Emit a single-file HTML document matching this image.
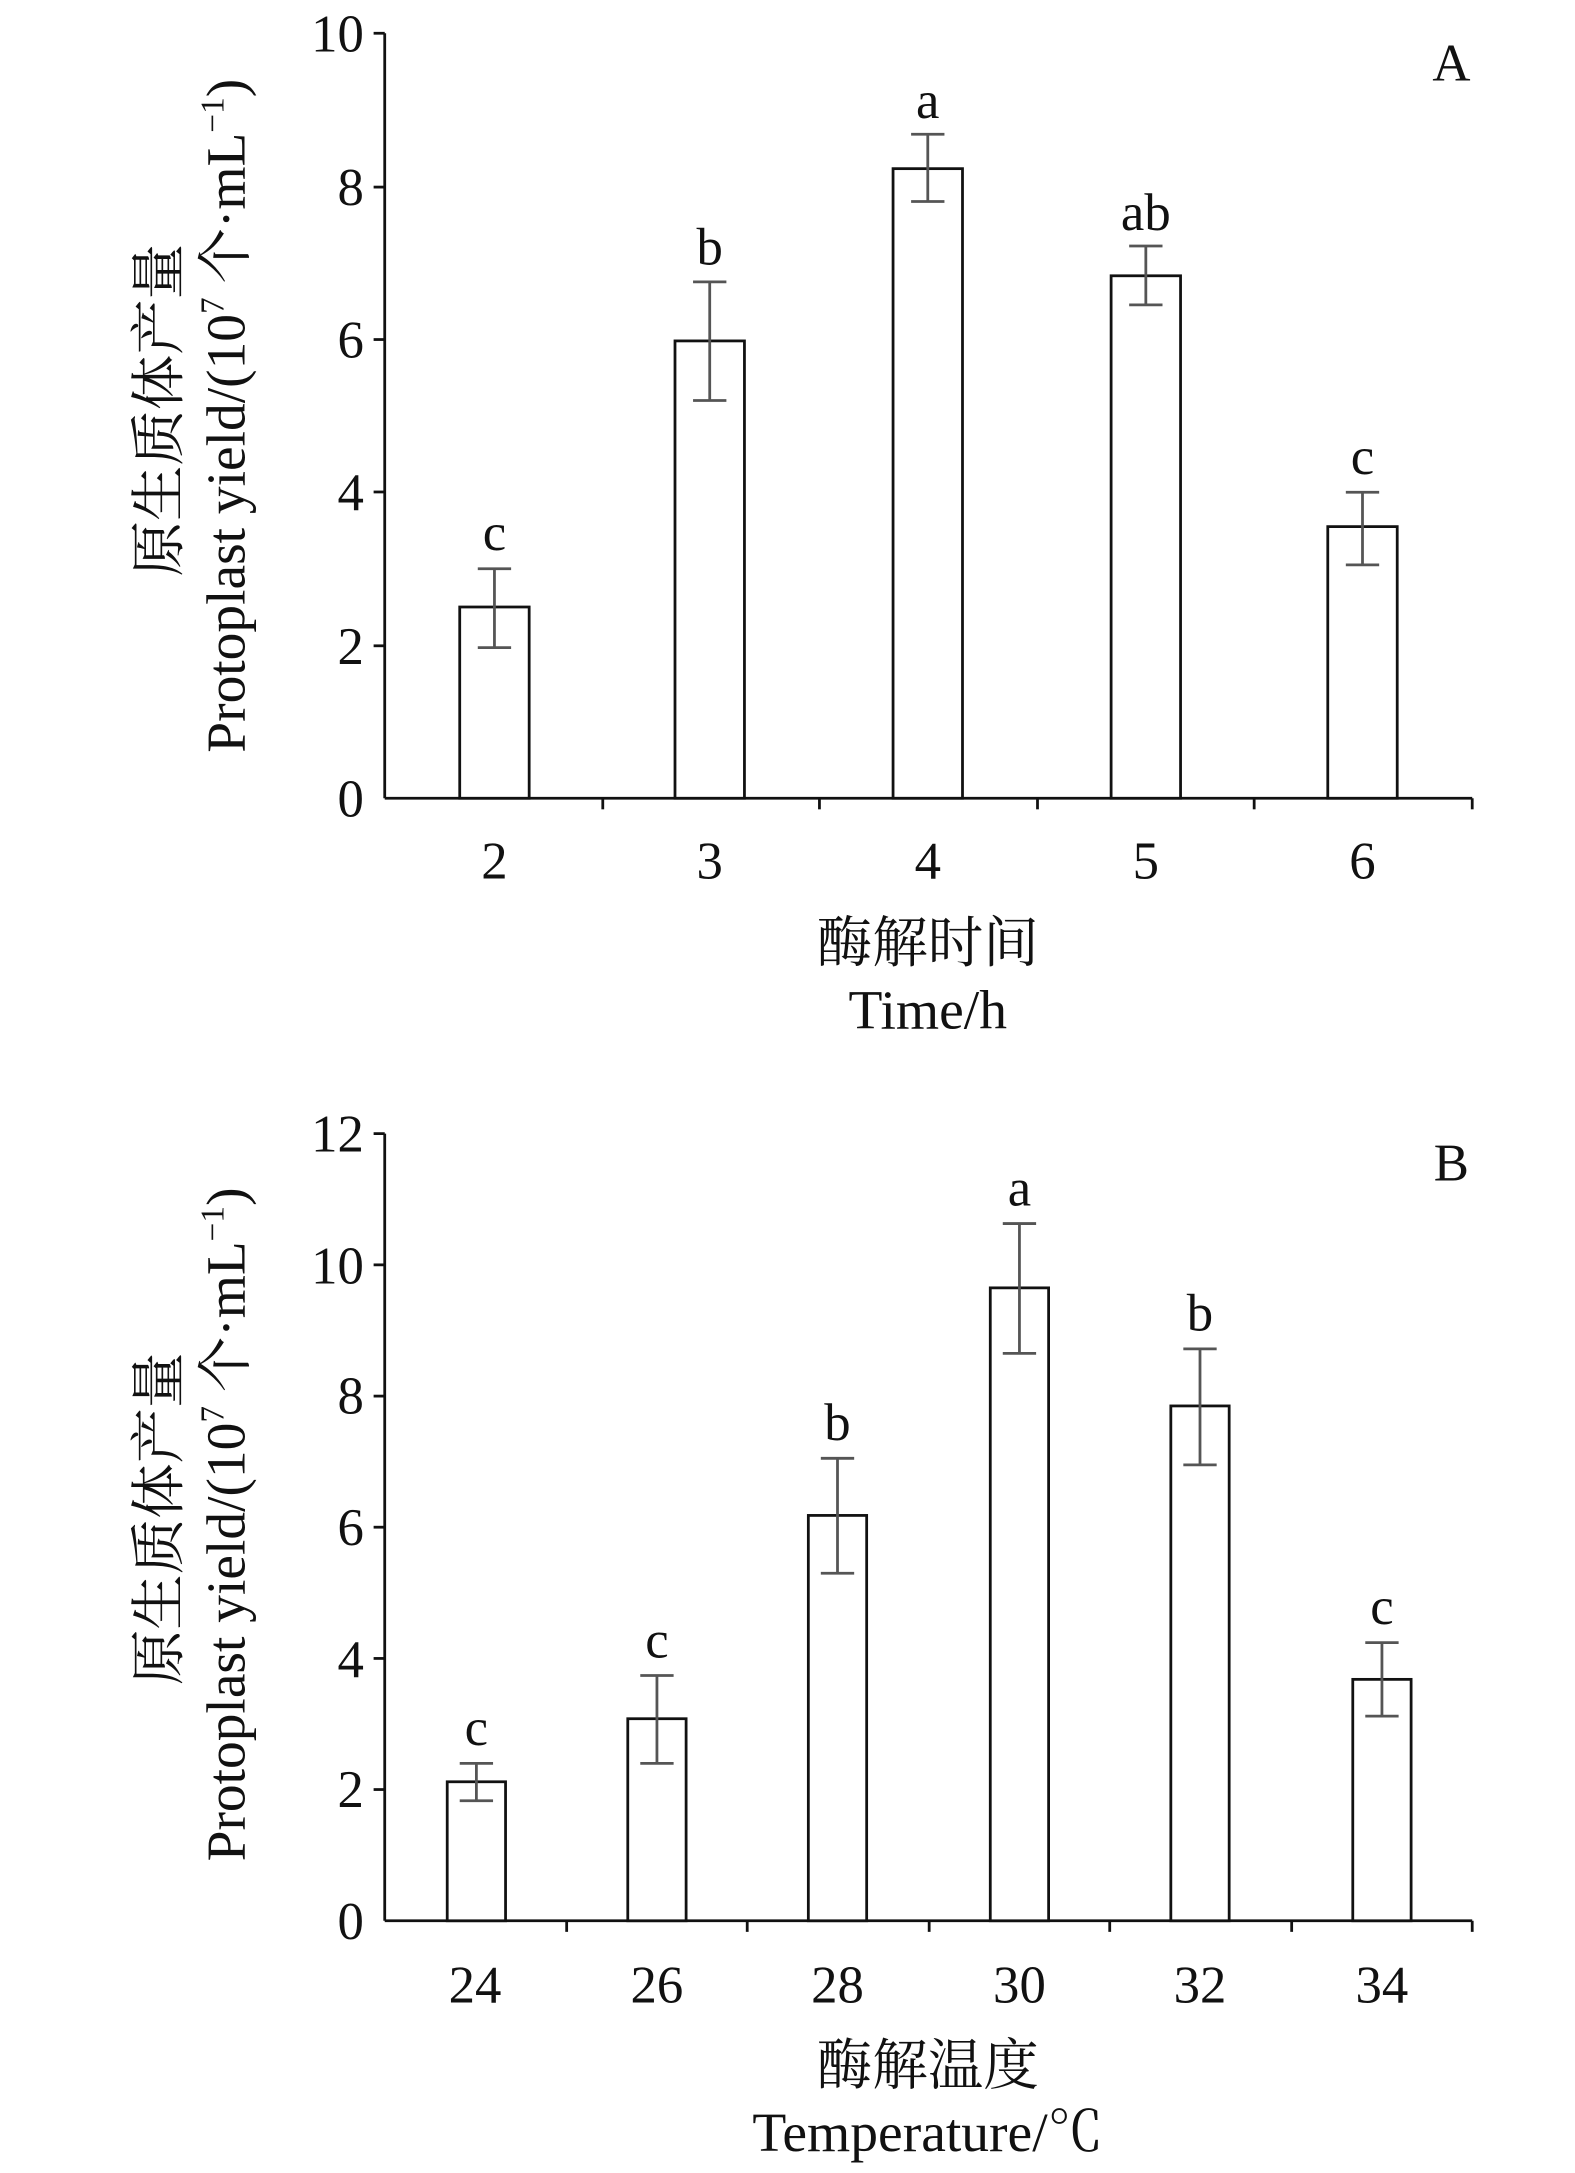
<!DOCTYPE html>
<html><head><meta charset="utf-8"><style>
html,body{margin:0;padding:0;background:#fff;}
svg{display:block;}
text{font-family:"Liberation Serif","Noto Serif CJK SC","Noto Sans CJK SC",serif;fill:#111;}
</style></head><body>
<svg width="1575" height="2173" viewBox="0 0 1134 1568" preserveAspectRatio="none" xmlns="http://www.w3.org/2000/svg">
<g stroke="#111" stroke-width="2" fill="none">
<line x1="277" y1="24" x2="277" y2="576"/>
<line x1="277" y1="576" x2="1060" y2="576"/>
<line x1="269" y1="24" x2="277" y2="24"/><line x1="269" y1="135" x2="277" y2="135"/><line x1="269" y1="245" x2="277" y2="245"/><line x1="269" y1="355" x2="277" y2="355"/><line x1="269" y1="466" x2="277" y2="466"/>
<line x1="434" y1="576" x2="434" y2="584"/><line x1="590" y1="576" x2="590" y2="584"/><line x1="747" y1="576" x2="747" y2="584"/><line x1="903" y1="576" x2="903" y2="584"/><line x1="1060" y1="576" x2="1060" y2="584"/>
<rect x="331" y="438" width="50" height="138" fill="#fff"/>
<rect x="486" y="246" width="50" height="330" fill="#fff"/>
<rect x="643" y="121.7" width="50" height="454.3" fill="#fff"/>
<rect x="800" y="199" width="50" height="377" fill="#fff"/>
<rect x="956" y="380" width="50" height="196" fill="#fff"/>
<line x1="277" y1="818" x2="277" y2="1386"/>
<line x1="277" y1="1386" x2="1060" y2="1386"/>
<line x1="269" y1="818" x2="277" y2="818"/><line x1="269" y1="912.7" x2="277" y2="912.7"/><line x1="269" y1="1007.4" x2="277" y2="1007.4"/><line x1="269" y1="1102" x2="277" y2="1102"/><line x1="269" y1="1196.7" x2="277" y2="1196.7"/><line x1="269" y1="1291.3" x2="277" y2="1291.3"/>
<line x1="408" y1="1386" x2="408" y2="1394"/><line x1="538" y1="1386" x2="538" y2="1394"/><line x1="669" y1="1386" x2="669" y2="1394"/><line x1="799" y1="1386" x2="799" y2="1394"/><line x1="930" y1="1386" x2="930" y2="1394"/><line x1="1060" y1="1386" x2="1060" y2="1394"/>
<rect x="322" y="1285.7" width="42" height="100.3" fill="#fff"/>
<rect x="452" y="1240.2" width="42" height="145.8" fill="#fff"/>
<rect x="582" y="1093.5" width="42" height="292.5" fill="#fff"/>
<rect x="713" y="929.3" width="42" height="456.7" fill="#fff"/>
<rect x="843" y="1014.5" width="42" height="371.5" fill="#fff"/>
<rect x="974" y="1211.8" width="42" height="174.2" fill="#fff"/>
</g>
<g stroke="#555" stroke-width="2" fill="none">
<path d="M356 410.4V467.3M344 410.4H368M344 467.3H368"/>
<path d="M511 203.4V289M499 203.4H523M499 289H523"/>
<path d="M668 96.9V145.4M656 96.9H680M656 145.4H680"/>
<path d="M825 177.5V220M813 177.5H837M813 220H837"/>
<path d="M981 355.2V407.6M969 355.2H993M969 407.6H993"/>
<path d="M343 1272.4V1299.4M331 1272.4H355M331 1299.4H355"/>
<path d="M473 1209V1272.4M461 1209H485M461 1272.4H485"/>
<path d="M603 1052.3V1135.2M591 1052.3H615M591 1135.2H615"/>
<path d="M734 882.9V976.6M722 882.9H746M722 976.6H746"/>
<path d="M864 973.3V1057M852 973.3H876M852 1057H876"/>
<path d="M995 1185.3V1238.3M983 1185.3H1007M983 1238.3H1007"/>
</g>
<g font-size="38" text-anchor="end">
<text x="262" y="37">10</text><text x="262" y="148">8</text><text x="262" y="258">6</text><text x="262" y="368">4</text><text x="262" y="479">2</text><text x="262" y="589">0</text>
<text x="262" y="831">12</text><text x="262" y="926">10</text><text x="262" y="1020">8</text><text x="262" y="1115">6</text><text x="262" y="1210">4</text><text x="262" y="1304">2</text><text x="262" y="1399">0</text>
</g>
<g font-size="38" text-anchor="middle">
<text x="356" y="634">2</text><text x="511" y="634">3</text><text x="668" y="634">4</text><text x="825" y="634">5</text><text x="981" y="634">6</text>
<text x="342" y="1445">24</text><text x="473" y="1445">26</text><text x="603" y="1445">28</text><text x="734" y="1445">30</text><text x="864" y="1445">32</text><text x="995" y="1445">34</text>
<text x="356" y="397">c</text><text x="511" y="191">b</text><text x="668" y="85">a</text><text x="825" y="166">ab</text><text x="981" y="342">c</text>
<text x="343" y="1259">c</text><text x="473" y="1196">c</text><text x="603" y="1039">b</text><text x="734" y="870">a</text><text x="864" y="960">b</text><text x="995" y="1172">c</text>
<text x="1045" y="58">A</text>
<text x="1045" y="852">B</text>
</g>
<g font-size="40" text-anchor="middle">
<text x="668" y="694">酶解时间</text>
<text x="668" y="742">Time/h</text>
<text x="668" y="1504">酶解温度</text>
<text x="668" y="1552">Temperature/℃</text>
<text transform="translate(128,296) rotate(-90)">原生质体产量</text>
<text transform="translate(176,300) rotate(-90)">Protoplast yield/(10<tspan font-size="24" dy="-15">7</tspan><tspan dy="15"> 个·mL</tspan><tspan font-size="24" dy="-15">−1</tspan><tspan dy="15">)</tspan></text>
<text transform="translate(128,1096) rotate(-90)">原生质体产量</text>
<text transform="translate(176,1100) rotate(-90)">Protoplast yield/(10<tspan font-size="24" dy="-15">7</tspan><tspan dy="15"> 个·mL</tspan><tspan font-size="24" dy="-15">−1</tspan><tspan dy="15">)</tspan></text>
</g>
</svg>
</body></html>
